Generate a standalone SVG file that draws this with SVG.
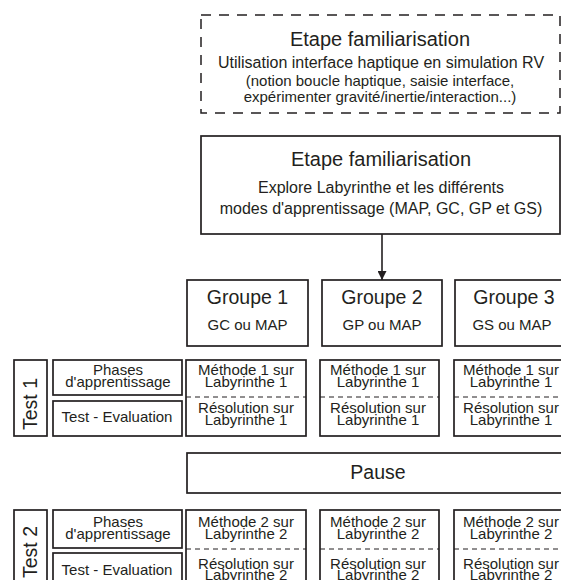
<svg xmlns="http://www.w3.org/2000/svg" width="561" height="580" viewBox="0 0 561 580">
<style>
text{font-family:"Liberation Sans",Arial,sans-serif;fill:#231f20;text-anchor:middle}
.b{fill:#fff;stroke:#231f20;stroke-width:1.7}
.d{fill:none;stroke:#231f20;stroke-width:1.5;stroke-dasharray:10 8}
.dv{stroke:#231f20;stroke-width:1;stroke-dasharray:5 4}
.t1{font-size:19.5px}
.tt{font-size:20px}
.t2{font-size:16px}
.t3{font-size:15px}
.t4{font-size:15px}
</style>
<defs>
<marker id="ah" viewBox="0 0 10 10" refX="10" refY="5" markerWidth="9" markerHeight="9" markerUnits="userSpaceOnUse" orient="auto">
<path d="M0,0 L10,5 L0,10 z" fill="#231f20"/>
</marker>
</defs>
<g id="connectors">
<line x1="382" y1="234" x2="382" y2="280" stroke="#231f20" stroke-width="1.6" marker-end="url(#ah)"/>
</g>
<g id="etape1">
<rect class="d" x="201" y="15" width="359" height="98"/>
<text class="tt" x="380" y="46">Etape familiarisation</text>
<text class="t2" x="381" y="68">Utilisation interface haptique en simulation RV</text>
<text class="t3" x="380" y="86">(notion boucle haptique, saisie interface,</text>
<text class="t3" x="380" y="102">expérimenter gravité/inertie/interaction...)</text>
</g>
<g id="etape2">
<rect class="b" x="201" y="136" width="359" height="98"/>
<text class="tt" x="381" y="166">Etape familiarisation</text>
<text class="t2" x="381" y="193">Explore Labyrinthe et les différents</text>
<text class="t2" x="381" y="214">modes d'apprentissage (MAP, GC, GP et GS)</text>
</g>
<g id="groupe1">
<rect class="b" x="187" y="280" width="121" height="66"/>
<text class="t1" x="247.5" y="304">Groupe 1</text>
<text class="t3" x="247.5" y="330">GC ou MAP</text>
</g>
<g id="groupe2">
<rect class="b" x="322" y="280" width="120" height="66"/>
<text class="t1" x="382" y="304">Groupe 2</text>
<text class="t3" x="382" y="330">GP ou MAP</text>
</g>
<g id="groupe3">
<rect class="b" x="455" y="280" width="118" height="66"/>
<text class="t1" x="514" y="304">Groupe 3</text>
<text class="t3" x="512" y="330">GS ou MAP</text>
</g>
<g id="test1">
<rect class="b" x="14" y="360" width="33" height="76"/>
<text class="t1" transform="translate(37,404) rotate(-90)" x="0" y="0">Test 1</text>
</g>
<g id="phases1">
<rect class="b" x="53" y="360" width="129" height="35"/>
<text class="t4" x="118" y="375">Phases</text>
<text class="t4" x="118" y="387">d'apprentissage</text>
</g>
<g id="eval1">
<rect class="b" x="53" y="401" width="129" height="35"/>
<text class="t3" x="117" y="422">Test - Evaluation</text>
</g>
<g id="m1g1">
<rect class="b" x="186" y="360" width="120" height="76"/>
<line class="dv" x1="186" y1="397" x2="306" y2="397"/>
<text class="t4" x="246" y="375">Méthode 1 sur</text>
<text class="t4" x="246" y="387">Labyrinthe 1</text>
<text class="t4" x="246" y="413">Résolution sur</text>
<text class="t4" x="246" y="425">Labyrinthe 1</text>
</g>
<g id="m1g2">
<rect class="b" x="320" y="360" width="119" height="76"/>
<line class="dv" x1="320" y1="397" x2="439" y2="397"/>
<text class="t4" x="378" y="375">Méthode 1 sur</text>
<text class="t4" x="378" y="387">Labyrinthe 1</text>
<text class="t4" x="378" y="413">Résolution sur</text>
<text class="t4" x="378" y="425">Labyrinthe 1</text>
</g>
<g id="m1g3">
<rect class="b" x="454" y="360" width="118" height="76"/>
<line class="dv" x1="454" y1="397" x2="572" y2="397"/>
<text class="t4" x="511" y="375">Méthode 1 sur</text>
<text class="t4" x="511" y="387">Labyrinthe 1</text>
<text class="t4" x="511" y="413">Résolution sur</text>
<text class="t4" x="511" y="425">Labyrinthe 1</text>
</g>
<g id="pause">
<rect class="b" x="187" y="453" width="382" height="40"/>
<text class="t1" x="378" y="479">Pause</text>
</g>
<g id="test2">
<rect class="b" x="14" y="510" width="33" height="80"/>
<text class="t1" transform="translate(37,552) rotate(-90)" x="0" y="0">Test 2</text>
</g>
<g id="phases2">
<rect class="b" x="53" y="510" width="129" height="38"/>
<text class="t4" x="118" y="527">Phases</text>
<text class="t4" x="118" y="539">d'apprentissage</text>
</g>
<g id="eval2">
<rect class="b" x="53" y="553" width="129" height="37"/>
<text class="t3" x="117" y="575">Test - Evaluation</text>
</g>
<g id="m2g1">
<rect class="b" x="186" y="510" width="120" height="80"/>
<line class="dv" x1="186" y1="549" x2="306" y2="549"/>
<text class="t4" x="246" y="527">Méthode 2 sur</text>
<text class="t4" x="246" y="539">Labyrinthe 2</text>
<text class="t4" x="246" y="569">Résolution sur</text>
<text class="t4" x="246" y="580">Labyrinthe 2</text>
</g>
<g id="m2g2">
<rect class="b" x="320" y="510" width="119" height="80"/>
<line class="dv" x1="320" y1="549" x2="439" y2="549"/>
<text class="t4" x="378" y="527">Méthode 2 sur</text>
<text class="t4" x="378" y="539">Labyrinthe 2</text>
<text class="t4" x="378" y="569">Résolution sur</text>
<text class="t4" x="378" y="580">Labyrinthe 2</text>
</g>
<g id="m2g3">
<rect class="b" x="454" y="510" width="118" height="80"/>
<line class="dv" x1="454" y1="549" x2="572" y2="549"/>
<text class="t4" x="511" y="527">Méthode 2 sur</text>
<text class="t4" x="511" y="539">Labyrinthe 2</text>
<text class="t4" x="511" y="569">Résolution sur</text>
<text class="t4" x="511" y="580">Labyrinthe 2</text>
</g>
</svg>
